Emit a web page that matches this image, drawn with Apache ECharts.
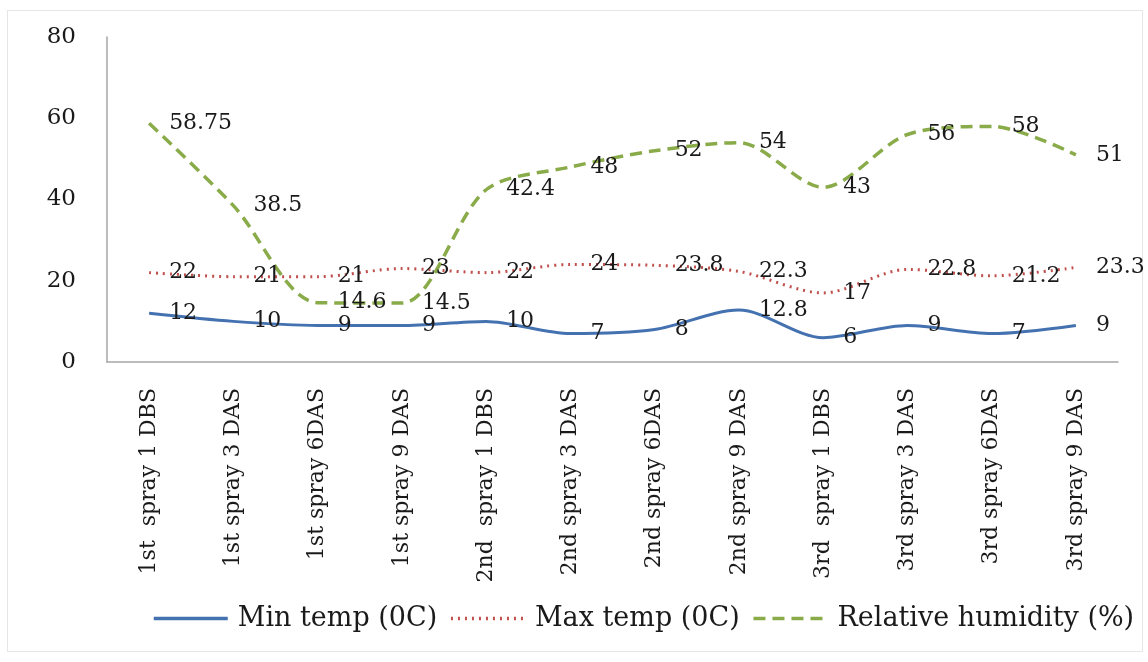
<!DOCTYPE html>
<html>
<head>
<meta charset="utf-8">
<script src="https://cdn.jsdelivr.net/npm/echarts@6/dist/echarts.min.js"></script>
<style>
  html, body { margin: 0; padding: 0; background: #fff; }
  .frame {
    position: absolute;
    left: 7px; top: 10px;
    width: 1136px; height: 642px;
    border: 1px solid #e6e6e6;
    box-sizing: border-box;
  }
  #chart { position: absolute; left: 0; top: 0; width: 1148px; height: 662px; }
</style>
</head>
<body>
<div class="frame"></div>
<div id="chart"></div>
<script>
// categories on the x axis
var stages = [
  '1st  spray 1 DBS', '1st spray 3 DAS', '1st spray 6DAS', '1st spray 9 DAS',
  '2nd  spray 1 DBS', '2nd spray 3 DAS', '2nd spray 6DAS', '2nd spray 9 DAS',
  '3rd  spray 1 DBS', '3rd spray 3 DAS', '3rd spray 6DAS', '3rd spray 9 DAS'
];

// series values
var minTemp = [12, 10, 9, 9, 10, 7, 8, 12.8, 6, 9, 7, 9];
var maxTemp = [22, 21, 21, 23, 22, 24, 23.8, 22.3, 17, 22.8, 21.2, 23.3];
var humidity = [58.75, 38.5, 14.6, 14.5, 42.4, 48, 52, 54, 43, 56, 58, 51];

var serif = '"DejaVu Serif", "Liberation Serif", serif';

var chart = echarts.init(document.getElementById('chart'));

function labelStyle() {
  return {
    show: true,
    position: 'right',
    distance: 20,
    color: '#1a1a1a',
    fontFamily: serif,
    fontSize: 22
  };
}

var options = {
  animation: false,
  textStyle: { fontFamily: serif },
  grid: { left: 107, right: 30, top: 37, bottom: 300 },
  legend: {
    top: 600,
    left: 147,
    itemWidth: 74,
    itemHeight: 14,
    itemGap: 12,
    itemStyle: { color: 'rgba(0,0,0,0)', borderWidth: 0 },
    lineStyle: { width: 3.5 },
    textStyle: { color: '#1a1a1a', fontFamily: serif, fontSize: 27, padding: [0, 0, 0, 5] },
    data: ['Min temp (0C)', 'Max temp (0C)', 'Relative humidity (%)']
  },
  xAxis: {
    type: 'category',
    data: stages,
    boundaryGap: true,
    axisLine: { lineStyle: { color: '#a6a6a6', width: 1.5 } },
    axisTick: { show: false },
    axisLabel: {
      rotate: 90,
      interval: 0,
      margin: 26,
      color: '#1a1a1a',
      fontFamily: serif,
      fontSize: 22
    }
  },
  yAxis: {
    type: 'value',
    min: 0,
    max: 80,
    interval: 20,
    axisLine: { show: true, lineStyle: { color: '#a6a6a6', width: 1.5 } },
    axisTick: { show: false },
    splitLine: { show: false },
    axisLabel: {
      margin: 31,
      color: '#1a1a1a',
      fontFamily: serif,
      fontSize: 23
    }
  },
  series: [
    {
      name: 'Min temp (0C)',
      type: 'line',
      smooth: 0.3,
      symbol: 'circle',
      symbolSize: 0,
      data: minTemp,
      lineStyle: { color: '#4472b0', width: 3 },
      itemStyle: { color: 'rgba(0,0,0,0)' },
      label: labelStyle()
    },
    {
      name: 'Max temp (0C)',
      type: 'line',
      smooth: 0.3,
      symbol: 'circle',
      symbolSize: 0,
      data: maxTemp,
      lineStyle: { color: '#c0504d', width: 3, type: [2, 5] },
      itemStyle: { color: 'rgba(0,0,0,0)' },
      label: labelStyle()
    },
    {
      name: 'Relative humidity (%)',
      type: 'line',
      smooth: 0.3,
      symbol: 'circle',
      symbolSize: 0,
      data: humidity,
      lineStyle: { color: '#8aab4a', width: 3.5, type: [12, 7] },
      itemStyle: { color: 'rgba(0,0,0,0)' },
      label: labelStyle()
    }
  ]
};

chart.setOption(options);
</script>
</body>
</html>
